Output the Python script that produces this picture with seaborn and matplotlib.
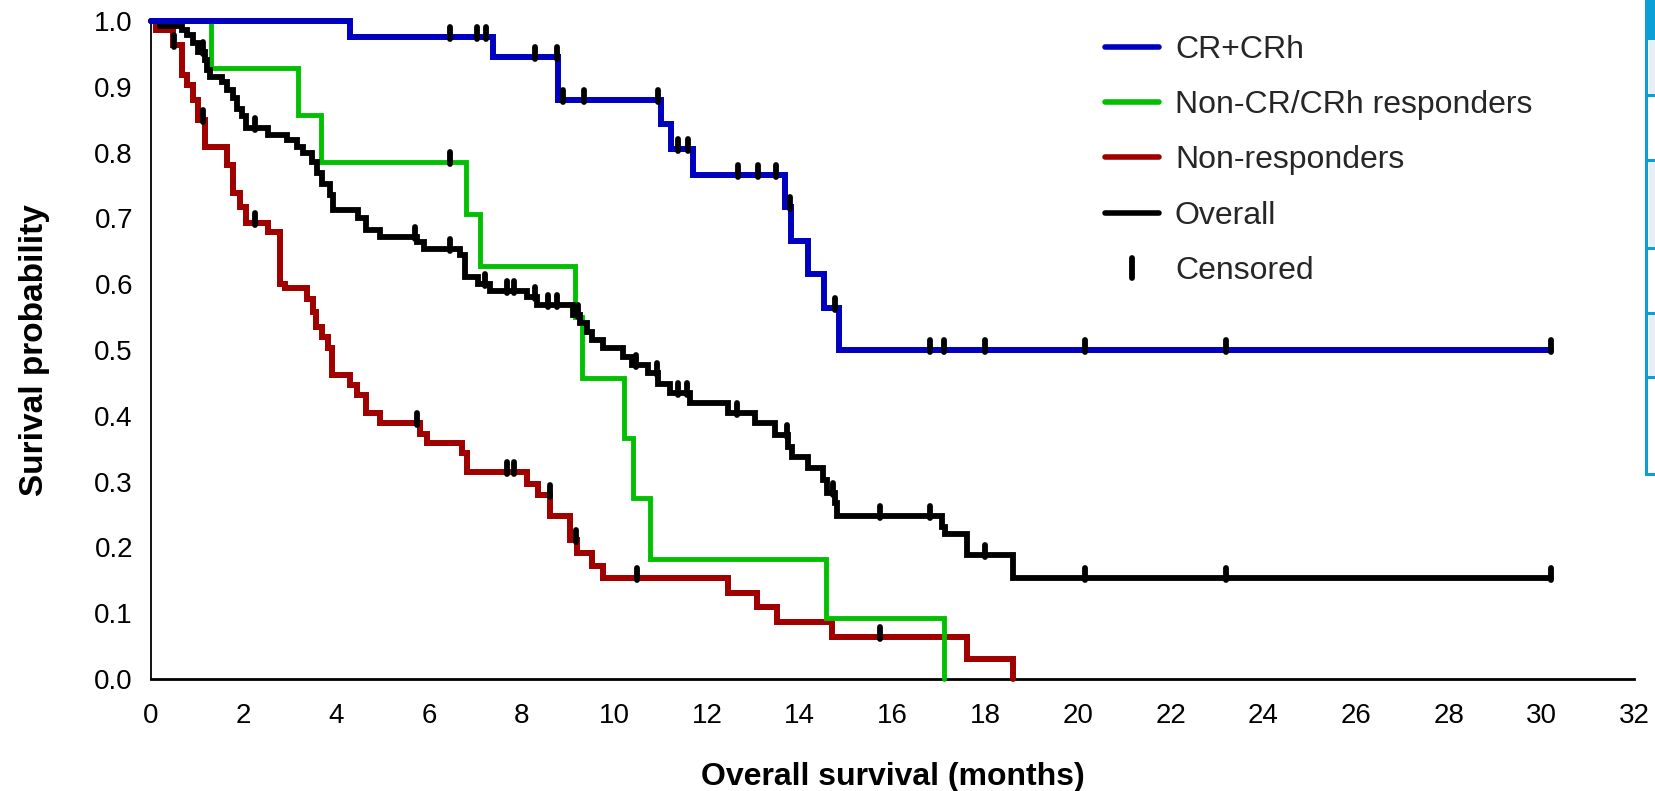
import numpy as np
import pandas as pd
import matplotlib
matplotlib.use("Agg")
import matplotlib.pyplot as plt
import seaborn as sns
from matplotlib.path import Path
from matplotlib.markers import MarkerStyle
from matplotlib.lines import Line2D
from matplotlib.patches import Rectangle

# ---------------- data ----------------
groups = ["CR+CRh", "Non-CR/CRh responders", "Non-responders", "Overall"]

cr_t = [0, 4.29, 7.38, 8.79, 11.0, 11.22, 11.69, 13.68, 13.82, 14.18, 14.52, 14.85, 30.2]
cr_s = [1.0, 0.975, 0.946, 0.880, 0.843, 0.806, 0.766, 0.717, 0.666, 0.615, 0.564, 0.500, 0.500]
cr_c = [6.45, 7.04, 7.22, 8.29, 8.75, 8.88, 9.34, 10.93, 11.38, 11.58, 12.67, 13.10,
        13.49, 13.79, 14.76, 16.81, 17.12, 18.0, 20.15, 23.2, 30.2]

nr_resp_t = [0, 1.29, 3.18, 3.66, 6.79, 7.10, 9.15, 9.31, 10.20, 10.41, 10.77, 14.57, 17.11]
nr_resp_s = [1.0, 0.929, 0.857, 0.786, 0.707, 0.628, 0.550, 0.458, 0.366, 0.275, 0.183, 0.092, 0.0]
nr_resp_c = [6.45]

non_t = [0, 0.10, 0.48, 0.66, 0.77, 0.91, 1.02, 1.17, 1.63, 1.78, 1.92, 2.06, 2.53, 2.78, 2.89,
         3.36, 3.50, 3.55, 3.68, 3.83, 3.90, 4.29, 4.44, 4.65, 4.94, 5.80, 5.95, 6.70, 6.81,
         8.11, 8.36, 8.61, 9.04, 9.19, 9.51, 9.76, 12.46, 13.07, 13.50, 14.69, 17.60, 18.61]
non_s = [1.0, 0.986, 0.963, 0.918, 0.903, 0.880, 0.850, 0.809, 0.781, 0.738, 0.718, 0.693, 0.680,
         0.601, 0.594, 0.578, 0.558, 0.535, 0.520, 0.503, 0.462, 0.447, 0.432, 0.404, 0.389,
         0.373, 0.358, 0.343, 0.315, 0.297, 0.280, 0.247, 0.211, 0.191, 0.171, 0.153, 0.130,
         0.110, 0.087, 0.064, 0.031, 0.0]
non_c = [0.49, 1.13, 2.24, 5.73, 7.68, 7.83, 8.60, 9.17, 10.48, 15.73]

all_t = [0, 0.19, 0.66, 0.77, 0.91, 1.02, 1.17, 1.20, 1.27, 1.53, 1.63, 1.78, 1.85, 1.96, 2.06,
         2.53, 2.93, 3.14, 3.29, 3.47, 3.58, 3.68, 3.86, 3.93, 4.47, 4.65, 4.94, 5.75, 5.88,
         6.67, 6.78, 7.06, 7.32, 8.11, 8.32, 9.11, 9.26, 9.40, 9.51, 9.76, 10.19, 10.37, 10.73,
         10.95, 11.20, 11.63, 12.46, 13.03, 13.47, 13.75, 13.83, 14.18, 14.51, 14.58, 14.75,
         14.80, 17.06, 17.13, 17.60, 18.61, 30.2]
all_s = [1.0, 0.993, 0.986, 0.979, 0.966, 0.953, 0.941, 0.926, 0.915, 0.908, 0.895, 0.883, 0.867,
         0.855, 0.837, 0.827, 0.819, 0.809, 0.799, 0.786, 0.769, 0.753, 0.735, 0.713, 0.700,
         0.682, 0.672, 0.664, 0.654, 0.644, 0.611, 0.601, 0.590, 0.580, 0.568, 0.553, 0.541,
         0.528, 0.515, 0.503, 0.490, 0.477, 0.465, 0.449, 0.434, 0.419, 0.404, 0.389, 0.371,
         0.353, 0.338, 0.320, 0.302, 0.282, 0.267, 0.247, 0.231, 0.221, 0.188, 0.153, 0.153]
all_c = [1.13, 2.24, 5.70, 6.45, 7.21, 7.68, 7.83, 8.29, 8.57, 8.75, 9.22, 10.46, 10.91, 11.38,
         11.56, 12.65, 13.72, 14.72, 15.73, 16.81, 18.0, 20.15, 23.2, 30.2]

x_ticks = list(range(0, 33, 2))
y_ticks = [0.0, 0.1, 0.2, 0.3, 0.4, 0.5, 0.6, 0.7, 0.8, 0.9, 1.0]

colors = {"CR+CRh": "#0000C0", "Non-CR/CRh responders": "#00C000",
          "Non-responders": "#A00000", "Overall": "#000000"}

series = {
    "CR+CRh": (cr_t, cr_s, cr_c),
    "Non-CR/CRh responders": (nr_resp_t, nr_resp_s, nr_resp_c),
    "Non-responders": (non_t, non_s, non_c),
    "Overall": (all_t, all_s, all_c),
}

# ---------------- figure ----------------
sns.set_theme(style="white")
plt.rcParams["font.family"] = ["Liberation Sans", "DejaVu Sans"]

W, H = 1655, 791
fig = plt.figure(figsize=(W / 100, H / 100), dpi=100)
ax = fig.add_axes([151 / W, 1 - 679 / H, (1634 - 151) / W, (679 - 21) / H])

draw_order = ["Non-responders", "Non-CR/CRh responders", "Overall", "CR+CRh"]
lws = {"CR+CRh": 4.3, "Non-CR/CRh responders": 3.5, "Non-responders": 4.3, "Overall": 4.2}
for z, g in enumerate(draw_order):
    t, s, _ = series[g]
    df = pd.DataFrame({"t": t, "s": s})
    sns.lineplot(data=df, x="t", y="s", color=colors[g], linewidth=lws[g],
                 drawstyle="steps-post", estimator=None, sort=False, ax=ax,
                 zorder=3 + z, clip_on=False, solid_joinstyle="miter")

# censor marks: vertical ticks sitting mostly above the curve
cens_marker = MarkerStyle(Path([(0, -0.15), (0, 1.0)], [Path.MOVETO, Path.LINETO]),
                          capstyle="round")
for g in groups:
    t, s, c = series[g]
    t_arr = np.asarray(t)
    s_arr = np.asarray(s)
    idx = np.searchsorted(t_arr, np.asarray(c), side="right") - 1
    cv = s_arr[idx]
    ax.plot(c, cv, ls="none", marker=cens_marker, ms=15, mew=4.2, color="black",
            zorder=10, clip_on=False)

ax.set_xlim(0, 32)
ax.set_ylim(0, 1.0)
ax.set_xticks(x_ticks)
ax.set_xticklabels([str(v) for v in x_ticks])
ax.set_yticks(y_ticks)
ax.set_yticklabels([f"{v:.1f}" for v in y_ticks])

for sp in ["top", "right"]:
    ax.spines[sp].set_visible(False)
ax.spines["left"].set_linewidth(1.3)
ax.spines["bottom"].set_linewidth(2.0)
ax.spines["left"].set_color("black")
ax.spines["bottom"].set_color("black")
ax.tick_params(axis="both", direction="out", length=9, width=1.1, colors="black",
               labelsize=20)
ax.tick_params(axis="x", pad=8)
ax.tick_params(axis="y", pad=4)
ax.grid(False)

ax.set_xlabel("Overall survival (months)", fontsize=23, fontweight="bold", color="black")
ax.set_ylabel("Surival probability", fontsize=24, fontweight="bold", color="black")
ax.xaxis.set_label_coords(0.5, -0.126)
ax.yaxis.set_label_coords(-0.068, 0.5)

# legend
handles = [Line2D([], [], color=colors[g], lw=4, solid_capstyle="round") for g in groups]
handles.append(Line2D([], [], ls="none", marker=MarkerStyle(
    Path([(0, -1.0), (0, 1.0)], [Path.MOVETO, Path.LINETO]), capstyle="round"),
    ms=15, mew=4.2, color="black"))
labels = groups + ["Censored"]
ax.legend(handles, labels, loc="upper left", bbox_to_anchor=(1105 / W, 1 - 35 / H),
          bbox_transform=fig.transFigure, frameon=False, borderpad=0, borderaxespad=0,
          handlelength=1.69, handletextpad=0.5, labelspacing=0.79, fontsize=23)

# partially visible table at the right edge of the reference
def px_rect(x0, y0, x1, y1, **kw):
    fig.add_artist(Rectangle((x0 / W, 1 - y1 / H), (x1 - x0) / W, (y1 - y0) / H,
                             transform=fig.transFigure, **kw))

cyan = "#0AA0D6"
light = "#E6EFF8"
px_rect(1646, 0, 1656, 38, facecolor=cyan, edgecolor="none")
for y0, y1 in [(38, 95), (160, 248), (313, 377)]:
    px_rect(1649, y0, 1656, y1, facecolor=light, edgecolor="none")
px_rect(1645, 0, 1648, 476, facecolor=cyan, edgecolor="none")
for yy in [38, 95, 160, 248, 313, 377, 474]:
    px_rect(1645, yy - 1, 1656, yy + 2, facecolor=cyan, edgecolor="none")

fig.savefig("out.png", dpi=100, facecolor="white")
